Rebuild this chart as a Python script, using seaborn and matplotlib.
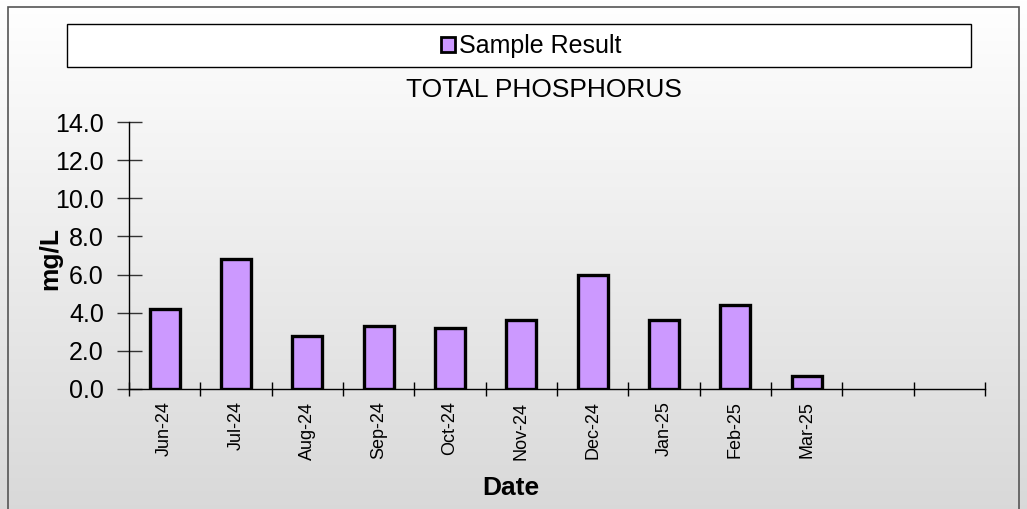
import numpy as np
import pandas as pd
import seaborn as sns
import matplotlib.pyplot as plt
from matplotlib.patches import Rectangle, Patch

# values
months = ["Jun-24", "Jul-24", "Aug-24", "Sep-24", "Oct-24", "Nov-24",
          "Dec-24", "Jan-25", "Feb-25", "Mar-25"]
results = [4.2, 6.8, 2.8, 3.3, 3.2, 3.6, 6.0, 3.6, 4.4, 0.7]
n_slots = 12  # two empty slots on the right
y_ticks = [0, 2, 4, 6, 8, 10, 12, 14]

bar_color = "#CC99FF"

sns.set_theme(style="white")
plt.rcParams['font.family'] = ['Liberation Sans', 'DejaVu Sans']
plt.rcParams['text.color'] = 'black'
plt.rcParams['xtick.color'] = 'black'
plt.rcParams['ytick.color'] = 'black'

W, H = 1027, 509
fig = plt.figure(figsize=(W / 100, H / 100), dpi=100)

# gradient background
bg = fig.add_axes([0, 0, 1, 1], zorder=-10)
grad = np.linspace(1.0, 0.85, 256).reshape(-1, 1)
bg.imshow(np.dstack([grad, grad, grad]), aspect='auto', extent=[0, 1, 0, 1])
bg.set_axis_off()

# outer border
fig.patches.append(Rectangle((8 / W, -0.01), (1019 - 8) / W, 1 - 7 / H + 0.01,
                             transform=fig.transFigure, fill=False,
                             edgecolor="#555555", lw=1.2))

# legend box
fig.patches.append(Rectangle((67 / W, 1 - 67 / H), (971 - 67) / W, (67 - 24) / H,
                             transform=fig.transFigure, facecolor="white",
                             edgecolor="black", lw=1.0))

df = pd.DataFrame({"Date": months, "Result": results})

ax = fig.add_axes([129 / W, 1 - 389 / H, (985 - 129) / W, (389 - 122) / H])
ax.patch.set_alpha(0)
sns.barplot(data=df, x="Date", y="Result", order=months, color=bar_color,
            width=0.42, edgecolor="black", linewidth=2.4, saturation=1, ax=ax)

ax.set_xlim(-0.5, n_slots - 0.5)
ax.set_ylim(0, 14)
ax.set_yticks(y_ticks)
ax.set_yticklabels([f"{v:.1f}" for v in y_ticks], fontsize=18)
ax.set_xticks(range(len(months)))
ax.set_xticklabels(months, rotation=90, fontsize=13)
ax.tick_params(axis='x', length=0, pad=9)
ax.set_xticks(np.arange(-0.5, n_slots), minor=True)
ax.tick_params(axis='x', which='minor', direction='inout', length=10,
               width=1, color="black", bottom=True)
ax.tick_params(axis='y', direction='inout', length=18, width=1,
               color="#333333", left=True, pad=9)

for side in ["top", "right"]:
    ax.spines[side].set_visible(False)
for side in ["left", "bottom"]:
    ax.spines[side].set_color("black")
    ax.spines[side].set_linewidth(1)

ax.set_xlabel("")
ax.set_ylabel("")
fig.text(511 / W, 1 - 488 / H, "Date", ha="center", va="center",
         fontsize=19, fontweight="bold")
fig.text(50 / W, 1 - 258 / H, "mg/L", ha="center", va="center",
         rotation=90, fontsize=19, fontweight="bold")

fig.text(544 / W, 1 - 90 / H, "TOTAL PHOSPHORUS", ha="center",
         va="center", fontsize=19)

handle = Patch(facecolor=bar_color, edgecolor="black", lw=2)
fig.legend([handle], ["Sample Result"], loc="center",
           bbox_to_anchor=(531 / W, 1 - 46 / H), frameon=False,
           fontsize=18, handlelength=0.55, handleheight=0.55,
           handletextpad=0.15)

fig.savefig("out.png", dpi=100)
